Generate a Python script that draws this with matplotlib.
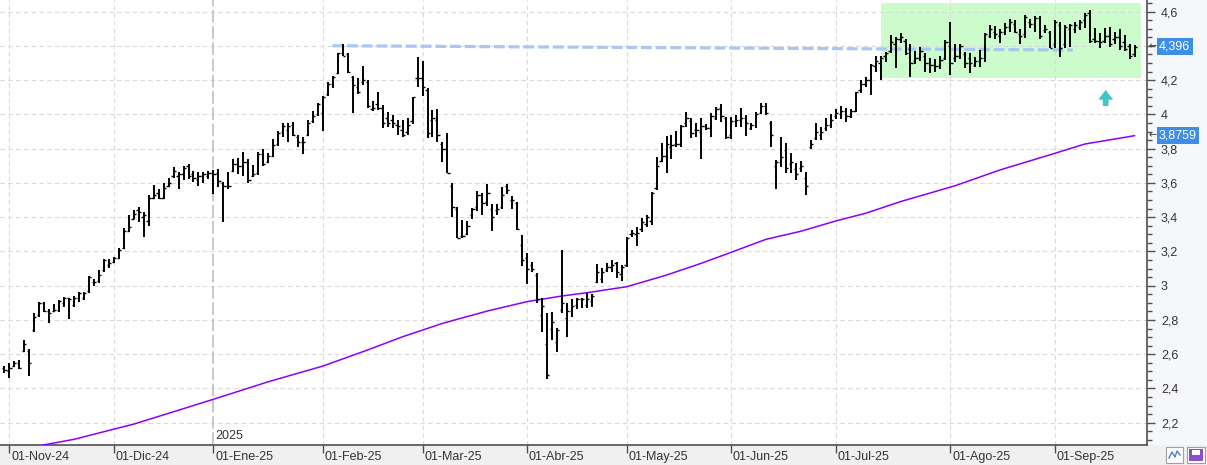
import numpy as np
import pandas as pd
import matplotlib
matplotlib.use("Agg")
import matplotlib.pyplot as plt
import matplotlib.transforms as mtransforms
from matplotlib.patches import Rectangle, Polygon

plt.rcParams['font.family'] = ['Liberation Sans', 'DejaVu Sans']

# Sesiones: 31-Oct-24 a 23-Sep-25 (sin festivos de mercado)
festivos = ['2024-12-25', '2024-12-26', '2025-01-01', '2025-04-18', '2025-04-21', '2025-05-01']
fechas = pd.bdate_range('2024-10-31', '2025-09-23')
fechas = fechas[~fechas.isin(pd.to_datetime(festivos))]

etiquetas_mes = ['01-Nov-24', '01-Dic-24', '01-Ene-25', '01-Feb-25', '01-Mar-25', '01-Abr-25',
                 '01-May-25', '01-Jun-25', '01-Jul-25', '01-Ago-25', '01-Sep-25']

maximos = [
    2.534, 2.547, 2.560, 2.566, 2.683, 2.630, 2.839, 2.903, 2.903, 2.862, 2.893, 2.917, 2.936, 2.930, 2.940, 2.965, 2.965, 3.057, 3.038, 3.090, 3.156, 3.154,
    3.166, 3.218, 3.335, 3.413, 3.442, 3.458, 3.432, 3.530, 3.588, 3.563, 3.601, 3.627, 3.691, 3.662, 3.701, 3.709, 3.672, 3.662, 3.662, 3.672,
    3.676, 3.682, 3.604, 3.666, 3.740, 3.744, 3.779, 3.740, 3.705, 3.779, 3.798, 3.773, 3.857, 3.905, 3.948, 3.952, 3.954, 3.880, 3.870, 3.969, 4.018, 4.065,
    4.107, 4.187, 4.225, 4.361, 4.411, 4.357, 4.225, 4.211, 4.283, 4.201, 4.080, 4.130, 4.055, 4.016, 3.997, 3.968, 3.968, 3.977, 4.100, 4.333,
    4.312, 4.153, 4.026, 4.032, 3.837, 3.890, 3.598, 3.461, 3.383, 3.378, 3.452, 3.555, 3.543, 3.594, 3.477, 3.475, 3.575, 3.594, 3.524, 3.486, 3.296,
    3.189, 3.140, 3.076, 2.926, 2.839, 2.845, 2.751, 3.206, 2.897, 2.922, 2.930, 2.930, 2.956, 2.952, 3.125, 3.101, 3.131, 3.150, 3.137, 3.121,
    3.287, 3.325, 3.345, 3.393, 3.413, 3.546, 3.753, 3.832, 3.876, 3.880, 3.905, 3.938, 4.013, 3.977, 3.948, 3.977, 3.944, 4.011, 4.042, 4.061, 3.983,
    3.983, 3.997, 4.036, 3.997, 3.952, 4.013, 4.065, 4.065, 3.963, 3.734, 3.866, 3.835, 3.773, 3.715, 3.728, 3.662, 3.850, 3.952, 3.928, 3.977, 4.003,
    4.030, 4.049, 4.036, 4.030, 4.133, 4.201, 4.217, 4.293, 4.339, 4.339, 4.366, 4.464, 4.454, 4.474, 4.439, 4.411, 4.372, 4.396, 4.357, 4.328, 4.322, 4.339, 4.436,
    4.542, 4.411, 4.411, 4.366, 4.357, 4.333, 4.376, 4.478, 4.522, 4.516, 4.497, 4.532, 4.555, 4.552, 4.497, 4.581, 4.555, 4.575, 4.575, 4.522, 4.489,
    4.552, 4.542, 4.522, 4.528, 4.538, 4.552, 4.594, 4.610, 4.503, 4.474, 4.503, 4.509, 4.483, 4.497, 4.464, 4.411, 4.405,
]
minimos = [
    2.490, 2.463, 2.527, 2.512, 2.611, 2.474, 2.728, 2.819, 2.845, 2.782, 2.845, 2.848, 2.877, 2.806, 2.877, 2.907, 2.917, 2.956, 3.000, 3.017, 3.082, 3.101,
    3.131, 3.156, 3.213, 3.312, 3.389, 3.374, 3.286, 3.350, 3.506, 3.506, 3.506, 3.578, 3.627, 3.563, 3.617, 3.623, 3.604, 3.584, 3.598, 3.623,
    3.535, 3.578, 3.374, 3.565, 3.662, 3.652, 3.642, 3.598, 3.633, 3.646, 3.701, 3.715, 3.753, 3.818, 3.870, 3.841, 3.876, 3.812, 3.769, 3.876, 3.948, 3.993,
    3.902, 4.105, 4.153, 4.236, 4.341, 4.244, 4.007, 4.119, 4.172, 4.036, 4.022, 4.026, 3.919, 3.928, 3.919, 3.880, 3.870, 3.880, 3.944, 4.158,
    4.109, 3.861, 3.870, 3.837, 3.720, 3.656, 3.403, 3.277, 3.277, 3.296, 3.389, 3.438, 3.413, 3.467, 3.321, 3.413, 3.446, 3.535, 3.446, 3.325, 3.117,
    3.010, 3.078, 2.897, 2.728, 2.453, 2.683, 2.611, 2.839, 2.703, 2.819, 2.864, 2.868, 2.868, 2.874, 3.014, 3.014, 3.082, 3.078, 3.043, 3.029,
    3.111, 3.283, 3.234, 3.312, 3.341, 3.354, 3.558, 3.720, 3.660, 3.738, 3.812, 3.808, 3.928, 3.861, 3.870, 3.740, 3.909, 3.866, 3.968, 3.954, 3.855,
    3.855, 3.928, 3.928, 3.876, 3.909, 3.919, 4.003, 3.997, 3.812, 3.565, 3.695, 3.656, 3.656, 3.617, 3.666, 3.530, 3.796, 3.851, 3.851, 3.905, 3.919,
    3.973, 3.973, 3.958, 3.977, 4.016, 4.127, 4.158, 4.113, 4.250, 4.201, 4.308, 4.357, 4.269, 4.415, 4.347, 4.217, 4.295, 4.314, 4.250, 4.244, 4.250, 4.264, 4.318,
    4.230, 4.308, 4.322, 4.269, 4.244, 4.279, 4.279, 4.308, 4.445, 4.439, 4.419, 4.464, 4.483, 4.474, 4.410, 4.448, 4.503, 4.483, 4.439, 4.474, 4.386,
    4.386, 4.333, 4.386, 4.396, 4.474, 4.493, 4.503, 4.419, 4.415, 4.386, 4.415, 4.396, 4.411, 4.376, 4.372, 4.322, 4.337,
]
aperturas = [
    2.52, 2.50, 2.53, 2.55, 2.62, 2.62, 2.74, 2.83, 2.90, 2.85, 2.85, 2.86, 2.90, 2.93, 2.89, 2.93, 2.93, 2.97, 3.02, 3.03, 3.09, 3.12,
    3.14, 3.16, 3.22, 3.32, 3.39, 3.44, 3.40, 3.38, 3.51, 3.54, 3.51, 3.58, 3.64, 3.64, 3.65, 3.70, 3.65, 3.62, 3.64, 3.64,
    3.66, 3.66, 3.60, 3.58, 3.67, 3.71, 3.70, 3.72, 3.64, 3.66, 3.77, 3.72, 3.76, 3.83, 3.90, 3.91, 3.94, 3.87, 3.84, 3.88, 3.96, 4.00,
    4.01, 4.12, 4.18, 4.24, 4.36, 4.35, 4.22, 4.16, 4.19, 4.19, 4.03, 4.06, 4.04, 3.98, 3.97, 3.94, 3.91, 3.90, 3.96, 4.21,
    4.21, 4.14, 3.97, 3.97, 3.83, 3.80, 3.58, 3.45, 3.29, 3.30, 3.41, 3.46, 3.53, 3.49, 3.45, 3.44, 3.46, 3.58, 3.50, 3.48, 3.24,
    3.16, 3.12, 3.06, 2.83, 2.66, 2.75, 2.67, 2.86, 2.81, 2.85, 2.89, 2.92, 2.89, 2.91, 3.02, 3.04, 3.09, 3.11, 3.13, 3.07,
    3.12, 3.30, 3.30, 3.33, 3.36, 3.38, 3.57, 3.73, 3.76, 3.81, 3.83, 3.83, 3.95, 3.96, 3.91, 3.90, 3.93, 3.92, 3.98, 4.04, 3.98,
    3.88, 3.96, 3.97, 3.98, 3.92, 3.94, 4.01, 4.05, 3.95, 3.70, 3.72, 3.79, 3.71, 3.68, 3.69, 3.63, 3.81, 3.86, 3.88, 3.92, 3.94,
    3.99, 4.00, 4.02, 3.99, 4.02, 4.14, 4.18, 4.20, 4.28, 4.30, 4.34, 4.37, 4.41, 4.44, 4.43, 4.38, 4.31, 4.33, 4.34, 4.30, 4.29, 4.28, 4.33,
    4.40, 4.33, 4.34, 4.35, 4.33, 4.29, 4.31, 4.33, 4.46, 4.48, 4.46, 4.48, 4.51, 4.53, 4.47, 4.47, 4.54, 4.53, 4.56, 4.49, 4.48,
    4.41, 4.52, 4.41, 4.50, 4.50, 4.51, 4.55, 4.59, 4.44, 4.43, 4.43, 4.46, 4.44, 4.45, 4.42, 4.40, 4.35,
]
cierres = [
    2.508, 2.52, 2.55, 2.52, 2.66, 2.55, 2.82, 2.90, 2.85, 2.84, 2.86, 2.91, 2.93, 2.92, 2.93, 2.96, 2.96, 3.05, 3.02, 3.06, 3.15, 3.13,
    3.16, 3.21, 3.32, 3.34, 3.42, 3.43, 3.41, 3.51, 3.53, 3.51, 3.57, 3.60, 3.67, 3.65, 3.69, 3.64, 3.63, 3.64, 3.65, 3.66,
    3.65, 3.61, 3.58, 3.58, 3.71, 3.70, 3.72, 3.62, 3.65, 3.77, 3.71, 3.76, 3.82, 3.89, 3.93, 3.93, 3.88, 3.84, 3.84, 3.95, 3.99, 4.06,
    4.10, 4.18, 4.22, 4.36, 4.34, 4.25, 4.17, 4.13, 4.20, 4.05, 4.04, 4.04, 3.95, 3.95, 3.95, 3.93, 3.88, 3.94, 4.10, 4.21,
    4.16, 3.89, 3.98, 3.88, 3.80, 3.66, 3.46, 3.28, 3.29, 3.35, 3.45, 3.53, 3.48, 3.54, 3.40, 3.45, 3.53, 3.56, 3.50, 3.33, 3.15,
    3.10, 3.10, 2.92, 2.88, 2.48, 2.79, 2.74, 2.90, 2.85, 2.88, 2.92, 2.92, 2.92, 2.94, 3.08, 3.08, 3.11, 3.12, 3.08, 3.11,
    3.28, 3.31, 3.31, 3.37, 3.40, 3.54, 3.70, 3.76, 3.83, 3.82, 3.83, 3.93, 3.98, 3.89, 3.91, 3.93, 3.92, 3.99, 4.03, 3.99, 3.87,
    3.96, 3.97, 3.98, 3.95, 3.94, 4.00, 4.05, 4.01, 3.88, 3.72, 3.75, 3.69, 3.72, 3.65, 3.70, 3.58, 3.83, 3.90, 3.90, 3.94, 3.97,
    4.01, 4.02, 3.99, 4.02, 4.13, 4.18, 4.20, 4.29, 4.31, 4.33, 4.36, 4.42, 4.44, 4.45, 4.36, 4.30, 4.33, 4.37, 4.30, 4.29, 4.28, 4.32, 4.42,
    4.30, 4.34, 4.40, 4.30, 4.30, 4.31, 4.33, 4.47, 4.50, 4.47, 4.48, 4.51, 4.54, 4.48, 4.46, 4.57, 4.53, 4.56, 4.46, 4.50, 4.39,
    4.54, 4.39, 4.51, 4.52, 4.52, 4.54, 4.58, 4.43, 4.43, 4.42, 4.46, 4.41, 4.45, 4.40, 4.38, 4.34, 4.396,
]

# Media movil (lectura en algunas sesiones)
media_sesion = [0, 8, 14, 26, 33, 42, 53, 64, 73, 80, 84, 88, 97, 105, 112, 117, 125, 133, 140,
                146, 153, 160, 167, 173, 180, 191, 200, 211, 217, 227]
media_valor = [2.02, 2.071, 2.103, 2.192, 2.255, 2.337, 2.439, 2.531, 2.625, 2.702, 2.741, 2.780, 2.852,
               2.907, 2.940, 2.959, 2.994, 3.062, 3.131, 3.195, 3.271, 3.318, 3.378, 3.423, 3.491,
               3.584, 3.676, 3.773, 3.827, 3.8759]

ultimo = 4.396
ultima_media = 3.8759

x = np.arange(len(fechas))
sesiones = pd.Series(x, index=fechas)
inicio_mes = sesiones.groupby([fechas.year, fechas.month]).first().values[1:]

W, H = 1207, 465
fig = plt.figure(figsize=(W / 100, H / 100), dpi=100, facecolor='#f0f0f0')
fig.patches.append(Rectangle((1147 / W, 20 / H), 60 / W, 445 / H, transform=fig.transFigure,
                             facecolor='#f6f7fa', edgecolor='none', zorder=-1))
ax = fig.add_axes([0, 20 / H, 1147 / W, 445 / H])
ax.set_facecolor('white')
ax.set_xlim(-0.86, 229.5)
ax.set_ylim(2.07, 4.668)

# Rejilla
niveles = np.round(np.arange(2.2, 4.61, 0.2), 1)
for v in niveles:
    ax.axhline(v, color='#dadada', lw=0.8, dashes=(4, 3), zorder=1)
for k, p in enumerate(inicio_mes):
    if etiquetas_mes[k].startswith('01-Ene'):
        ax.axvline(p, color='#c4c4c4', lw=1.3, dashes=(7, 2), zorder=1)
    else:
        ax.axvline(p, color='#dadada', lw=0.8, dashes=(4, 3), zorder=1)

# Zona de consolidacion
ax.add_patch(Rectangle((176.0, 4.213), 52.3, 0.436, facecolor='#ccfccc', edgecolor='none', zorder=0.5))

# Linea de resistencia
ax.plot([65.9, 214.6], [4.401, 4.376], color='#a8c8f0', lw=2.3, dashes=(3.4, 1.2), zorder=3)

# Media movil
ax.plot(media_sesion, media_valor, color='#8a00ff', lw=1.1, zorder=3)

# Barras OHLC
ax.vlines(x, minimos, maximos, color='black', lw=1.4, zorder=4)
ax.hlines(aperturas, x - 0.45, x, color='black', lw=1.0, zorder=4)
ax.hlines(cierres, x, x + 0.45, color='black', lw=1.0, zorder=4)

# Flecha
cx = 221.2
ax.add_patch(Polygon([(cx, 4.143), (cx + 1.5, 4.086), (cx + 0.57, 4.086), (cx + 0.57, 4.049),
                      (cx - 0.57, 4.049), (cx - 0.57, 4.086), (cx - 1.5, 4.086)],
                     closed=True, facecolor='#3ec6c8', edgecolor='none', zorder=5))

# Ejes
for s in ['left', 'top']:
    ax.spines[s].set_visible(False)
for s in ['right', 'bottom']:
    ax.spines[s].set_color('#505050')
    ax.spines[s].set_linewidth(1.2)

ax.yaxis.tick_right()
ax.set_yticks(niveles)
# la etiqueta 4,4 queda tapada por la marca del ultimo precio
ax.set_yticklabels(['' if abs(v - 4.4) < 1e-6 else
                    f'{v:.1f}'.rstrip('0').rstrip('.').replace('.', ',') for v in niveles])
ax.set_yticks(np.arange(2.1, 4.66, 0.05), minor=True)
ax.tick_params(axis='y', which='major', length=6, width=1, color='#505050', pad=4,
               labelsize=9, labelcolor='#333333')
ax.tick_params(axis='y', which='minor', length=3.5, width=1, color='#505050')

ax.set_xticks(inicio_mes)
ax.set_xticklabels([])
ax.tick_params(axis='x', which='major', length=6, width=1, color='#505050')

abajo = mtransforms.blended_transform_factory(ax.transData, ax.transAxes)
for k, p in enumerate(inicio_mes):
    ax.text(p + 0.35, -0.028, etiquetas_mes[k], transform=abajo, ha='left', va='center',
            fontsize=9, color='#333333', clip_on=False)
ene = inicio_mes[2]
ax.text(ene + 0.35, 0.02, '2025', transform=abajo, ha='left', va='center', fontsize=9, color='#333333')

# Marcas de ultimo valor
derecha = mtransforms.blended_transform_factory(ax.transAxes, ax.transData)
for val, txt in [(ultimo, '4,396'), (ultima_media, '3,8759')]:
    ax.text(1.0105, val, txt, transform=derecha, ha='left', va='center', fontsize=9, color='white',
            bbox=dict(boxstyle='square,pad=0.18', facecolor='#3d8ee6', edgecolor='none'),
            clip_on=False, zorder=6)
    ax.text(1.0015, val, '←', transform=derecha, ha='left', va='center', fontsize=7,
            color='#404040', clip_on=False, zorder=6, family='DejaVu Sans')

# Iconos de la esquina
def px(xp, yp):
    return (xp / W, 1 - yp / H)

fig.patches.append(Rectangle(px(1166, 463), 17 / W, 16 / H, transform=fig.transFigure,
                             facecolor='white', edgecolor='#a0a0a0', lw=0.8, zorder=2))
zx = [1169, 1172, 1175, 1177, 1180]
zy = [458, 452, 457, 451, 455]
fig.lines.append(plt.Line2D([v / W for v in zx], [1 - v / H for v in zy], transform=fig.transFigure,
                            color='#4a7fd0', lw=1.0, zorder=3))
fig.patches.append(Rectangle(px(1187, 463), 18 / W, 16 / H, transform=fig.transFigure,
                             facecolor='white', edgecolor='#a0a0a0', lw=0.8, zorder=2))
fig.patches.append(Rectangle(px(1189, 461), 14 / W, 12 / H, transform=fig.transFigure,
                             facecolor='#8a4fc8', edgecolor='none', zorder=3))
fig.patches.append(Rectangle(px(1192, 455), 8 / W, 5 / H, transform=fig.transFigure,
                             facecolor='white', edgecolor='none', zorder=4))

fig.savefig('out.png', dpi=100, facecolor=fig.get_facecolor())
